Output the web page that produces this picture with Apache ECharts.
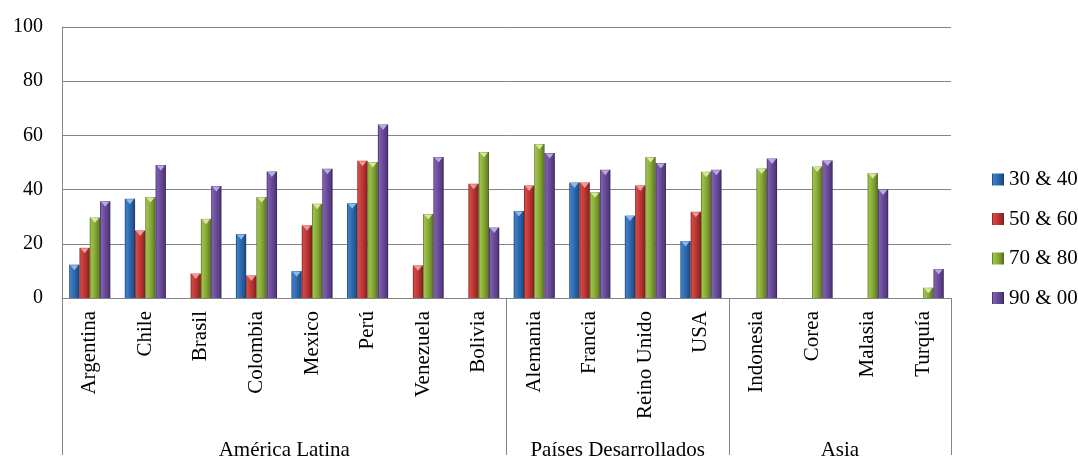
<!DOCTYPE html>
<html>
<head>
<meta charset="utf-8">
<script src="https://cdn.jsdelivr.net/npm/echarts@6/dist/echarts.min.js"></script>
<style>
  html, body { margin: 0; padding: 0; background: #fff; }
  #chart { width: 1078px; height: 461px; }
</style>
</head>
<body>
<div id="chart"></div>
<script>
// Countries, in display order, and the region each block of them belongs to
const countries = ['Argentina', 'Chile', 'Brasil', 'Colombia', 'Mexico', 'Perú', 'Venezuela', 'Bolivia',
  'Alemania', 'Francia', 'Reino Unido', 'USA',
  'Indonesia', 'Corea', 'Malasia', 'Turquía'];
const regions = ['América Latina', 'Países Desarrollados', 'Asia'];
const regionSizes = [8, 4, 4];

// One value per country for each period (null = no bar)
const period3040 = [12.3, 36.6, null, 23.6, 9.9, 35.0, null, null, 32.1, 42.6, 30.4, 21.0, null, null, null, null];
const period5060 = [18.5, 24.9, 9.0, 8.3, 26.8, 50.6, 12.0, 42.2, 41.5, 42.6, 41.5, 31.8, null, null, null, null];
const period7080 = [29.7, 37.3, 29.2, 37.3, 34.8, 50.2, 31.0, 53.9, 56.8, 39.0, 52.0, 46.6, 47.8, 48.5, 46.0, 3.8];
const period9000 = [35.7, 49.1, 41.3, 46.7, 47.7, 64.0, 52.0, 26.0, 53.5, 47.3, 49.8, 47.3, 51.5, 50.7, 40.0, 10.7];

const seriesNames = ['30 & 40', '50 & 60', '70 & 80', '90 & 00'];
const yTicks = [0, 20, 40, 60, 80, 100];

// Region boundaries (in category units) and region label centres
const boundaries = [0];
regionSizes.forEach(n => boundaries.push(boundaries[boundaries.length - 1] + n));
const regionCentres = regionSizes.map((n, i) => boundaries[i] + n / 2);

const FONT = '"Liberation Serif", "Times New Roman", serif';
const GRID_COLOR = '#858585';

// Shaded "glass" style fill for each palette colour: [edge, light, base, dark, cap]
const palettes = [
  ['#163864', '#3f7fc8', '#2e69ad', '#22528c', '#8fb9ea'],
  ['#6e1c1b', '#d44a46', '#bd3634', '#962826', '#ee9a97'],
  ['#4a611a', '#9fc24a', '#87aa36', '#68852a', '#d6e8a4'],
  ['#33224f', '#8060b0', '#684a98', '#523a7c', '#bda8de']
];

function barFill(p) {
  return new echarts.graphic.LinearGradient(0, 0, 1, 0, [
    { offset: 0, color: p[0] },
    { offset: 0.12, color: p[1] },
    { offset: 0.5, color: p[2] },
    { offset: 0.85, color: p[3] },
    { offset: 1, color: p[0] }
  ]);
}

const seriesData = [period3040, period5060, period7080, period9000];

const series = seriesData.map((values, i) => ({
  name: seriesNames[i],
  type: 'bar',
  xAxisIndex: 0,
  yAxisIndex: 0,
  barGap: '0%',
  barCategoryGap: '26%',
  data: values.map(v => (v == null ? '-' : v)),
  itemStyle: { color: barFill(palettes[i]) },
  emphasis: { disabled: true },
  // small bevelled cap on top of each bar
  markPoint: {
    silent: true,
    symbol: 'triangle',
    symbolRotate: 180,
    symbolSize: [8, 5],
    symbolOffset: [0, 3],
    itemStyle: { color: palettes[i][4] },
    label: { show: false },
    data: values
      .map((v, idx) => (v == null ? null : { coord: [idx, v] }))
      .filter(d => d !== null)
  }
}));

const chart = echarts.init(document.getElementById('chart'), null, { renderer: 'canvas' });

chart.setOption({
  animation: false,
  backgroundColor: '#ffffff',
  grid: { left: 62, right: 127, top: 27, bottom: 157, containLabel: false },
  legend: {
    data: seriesNames,
    orient: 'vertical',
    left: 992,
    top: 169,
    padding: 0,
    itemWidth: 12,
    itemHeight: 12,
    itemGap: 18.5,
    itemTextGap: 3,
    icon: 'rect',
    textStyle: { fontFamily: FONT, fontSize: 21, color: '#000', lineHeight: 21 }
  },
  xAxis: [
    {
      type: 'category',
      data: countries,
      position: 'bottom',
      axisLine: { show: true, lineStyle: { color: GRID_COLOR, width: 1 } },
      axisTick: { show: false },
      axisLabel: {
        rotate: 90,
        interval: 0,
        margin: 13,
        fontFamily: FONT,
        fontSize: 21,
        color: '#000'
      },
      splitLine: { show: false }
    },
    {
      // region level: separators and region names
      type: 'value',
      min: 0,
      max: countries.length,
      position: 'bottom',
      axisLine: { show: false },
      splitLine: { show: false },
      axisTick: {
        show: true,
        inside: false,
        length: 157,
        customValues: boundaries,
        lineStyle: { color: GRID_COLOR, width: 1 }
      },
      axisLabel: {
        show: true,
        customValues: regionCentres,
        margin: 142,
        fontFamily: FONT,
        fontSize: 21,
        color: '#000',
        formatter: v => regions[regionCentres.indexOf(v)] || ''
      }
    }
  ],
  yAxis: {
    type: 'value',
    min: yTicks[0],
    max: yTicks[yTicks.length - 1],
    interval: yTicks[1] - yTicks[0],
    axisLine: { show: true, lineStyle: { color: GRID_COLOR, width: 1 } },
    axisTick: { show: false },
    axisLabel: { margin: 19, fontFamily: FONT, fontSize: 20, color: '#000' },
    splitLine: { show: true, lineStyle: { color: GRID_COLOR, width: 1 } }
  },
  series: series
});
</script>
</body>
</html>
